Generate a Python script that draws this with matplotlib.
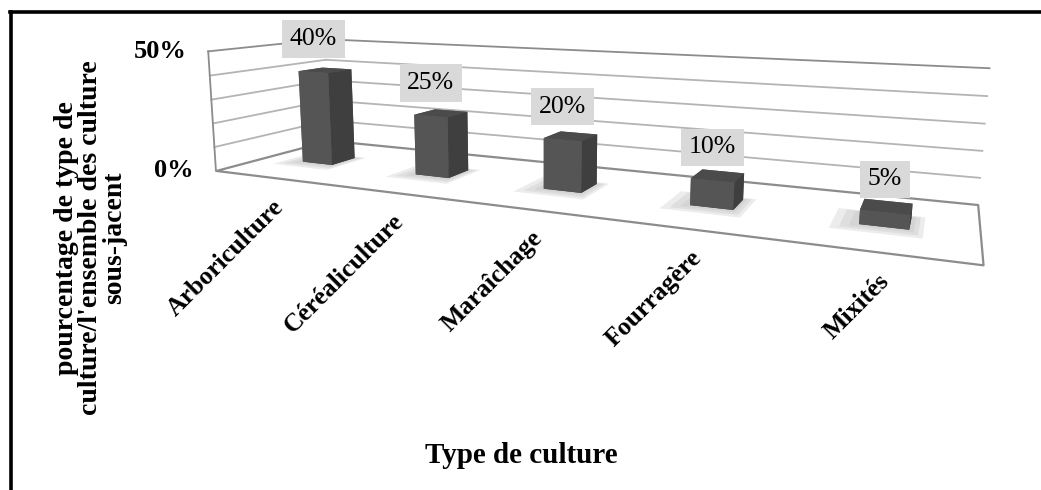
import matplotlib
matplotlib.use("Agg")
import matplotlib.pyplot as plt
from matplotlib.lines import Line2D
from mpl_toolkits.mplot3d import proj3d
from mpl_toolkits.mplot3d.art3d import Poly3DCollection

# data
categories = ["Arboriculture", "Céréaliculture", "Maraîchage", "Fourragère", "Mixités"]
shares = [0.40, 0.25, 0.20, 0.10, 0.05]
share_labels = ["40%", "25%", "20%", "10%", "5%"]
grid_levels = [0.0, 0.1, 0.2, 0.3, 0.4, 0.5]
tick_values = [0.0, 0.5]
tick_labels = ["0%", "50%"]

plt.rcParams["font.family"] = ["Liberation Serif", "DejaVu Serif"]

W, H = 1041, 490
fig = plt.figure(figsize=(W / 100, H / 100), dpi=100)

# camera fitted once against the Excel 3-D view
ax = fig.add_axes([0.1708, -0.0543, 0.7353, 1.5621], projection="3d",
                  proj_type="persp", focal_length=0.2126)
ax.computed_zorder = False
ax.set_axis_off()
ax.patch.set_visible(False)

n = len(categories)
zmax = 0.5
depth = 1.258
bw = bd = 0.27
ax.set_xlim(0, n)
ax.set_ylim(0, depth)
ax.set_zlim(0, zmax)
ax.set_box_aspect((n, depth, 0.855))
ax.view_init(elev=9.809, azim=-66.65, roll=-0.323)

edge_col = "#8c8c8c"
grid_col = "#b4b4b4"

# floor, walls and gridlines
floor = [[(0, 0, 0), (n, 0, 0), (n, depth, 0), (0, depth, 0)]]
ax.add_collection3d(Poly3DCollection(floor, facecolor="white", edgecolor=edge_col,
                                     linewidth=1.6, zorder=0, clip_on=False))
for lvl in grid_levels[1:]:
    c = edge_col if lvl == zmax else grid_col
    ax.plot([0, n], [depth, depth], [lvl, lvl], color=c, lw=1.3, zorder=1, clip_on=False)
    ax.plot([0, 0], [0, depth], [lvl, lvl], color=c, lw=1.3, zorder=1, clip_on=False)
ax.plot([0, 0], [0, 0], [0, zmax], color=edge_col, lw=1.3, zorder=1, clip_on=False)

# bars with a soft shadow on the floor
yc = depth / 2
face_cols = ["#3a3a3a", "#4b4b4b", "#555555", "#555555", "#5a5a5a", "#3f3f3f"]
for i, v in enumerate(shares):
    xc = i + 0.5
    for grow in [0.15, 0.10, 0.05]:
        x0, x1 = xc - bw / 2 - grow, xc + bw / 2 + grow * 0.5
        y0, y1 = yc - bd / 2 - grow, yc + bd / 2 + grow * 0.3
        shadow = [[(x0, y0, 0), (x1, y0, 0), (x1, y1, 0), (x0, y1, 0)]]
        ax.add_collection3d(Poly3DCollection(shadow, facecolor="#bdbdbd", alpha=0.28,
                                             edgecolor="none", zorder=2, clip_on=False))
    bars = ax.bar3d(xc - bw / 2, yc - bd / 2, 0, bw, bd, v, color=face_cols,
                    shade=False, zorder=3)
    bars.set_clip_on(False)

fig.canvas.draw()


def to_px(x, y, z):
    x2, y2, _ = proj3d.proj_transform(x, y, z, ax.M)
    return ax.transData.transform((x2, y2))


def put(px, py, s, **kw):
    return fig.text(px / W, py / H, s, **kw)


# value labels
for i, v in enumerate(shares):
    px, py = to_px(i + 0.5, yc - bd / 2, v)
    put(px, py + 33, share_labels[i], fontsize=18.5, ha="center", va="center",
        bbox=dict(boxstyle="square,pad=0.3", facecolor="#d9d9d9", edgecolor="none"))

# category labels
for i, cat in enumerate(categories):
    px, py = to_px(i + 0.5, 0, 0)
    put(px + 9, py - 26, cat, fontsize=18.5, fontweight="bold", rotation=45,
        rotation_mode="anchor", ha="right", va="center")

# value axis ticks
for v, lab in zip(tick_values, tick_labels):
    px, py = to_px(0, 0, v)
    put(px - 22, py, lab, fontsize=19, fontweight="bold", ha="right", va="center")

fig.text(91 / W, 1 - 238 / H,
         "pourcentage de type de\nculture/l'ensemble des culture\nsous-jacent",
         rotation=90, ha="center", va="center", multialignment="center",
         fontsize=20, fontweight="bold", linespacing=0.95)
fig.text(521 / W, 1 - 455 / H, "Type de culture", ha="center", va="center",
         fontsize=21, fontweight="bold")

# frame of the pasted chart
fig.add_artist(Line2D([10 / W, 1], [1 - 12 / H, 1 - 12 / H], color="black", lw=2.6,
                      transform=fig.transFigure))
fig.add_artist(Line2D([11 / W, 11 / W], [0, 1 - 12 / H], color="black", lw=2.6,
                      transform=fig.transFigure))

fig.savefig("out.png", dpi=100)
